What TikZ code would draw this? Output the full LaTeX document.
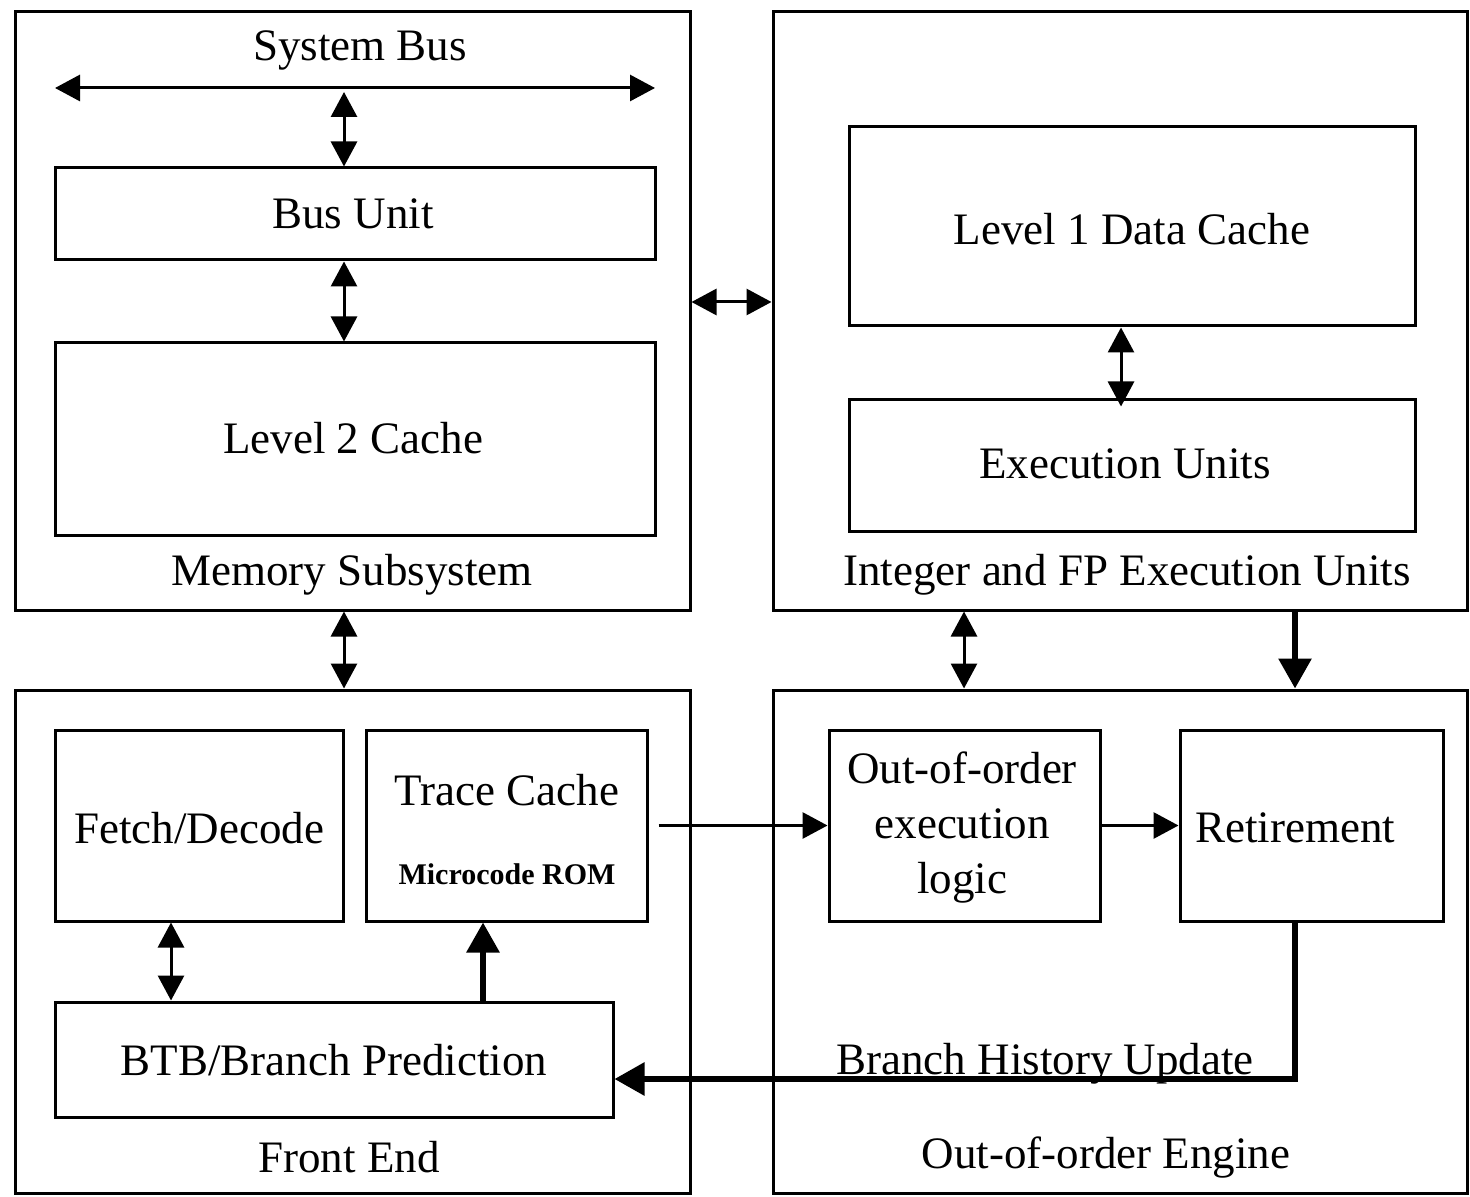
\documentclass[tikz,border=0pt]{standalone}
\usepackage{fontspec}
\setmainfont{Liberation Serif}
\usetikzlibrary{arrows.meta}
\tikzset{
  box/.style={draw, line width=1.5pt, rectangle, inner sep=0pt},
  lbl/.style={inner sep=0pt, font=\fontsize{22.5}{27.5}\selectfont, align=center},
  small/.style={inner sep=0pt, font=\fontsize{15}{18}\selectfont\bfseries},
  thin/.style={line width=1.5pt},
  thick/.style={line width=3pt},
  tip/.tip={Triangle[length=12.5pt,width=13pt]},
  bigtip/.tip={Triangle[length=15pt,width=16pt]},
  dbl/.style={thin, tip-tip},
  one/.style={thin, -tip},
  heavy/.style={thick, -bigtip},
}
\begin{document}
\begin{tikzpicture}[x=0.5pt, y=-0.5pt]
\useasboundingbox[fill=white] (0,0) rectangle (1470,1197);

% four outer blocks
\node[box, minimum width=337.5pt, minimum height=299pt] (mem) at (352.5,311) {};
\node[box, minimum width=347pt, minimum height=299pt] (int) at (1120,311) {};
\node[box, minimum width=337.5pt, minimum height=251.5pt] (fe) at (352.5,941.5) {};
\node[box, minimum width=347pt, minimum height=251.5pt] (ooo) at (1120,941.5) {};

\node[lbl] (memlbl) at (352,575) {Memory Subsystem};
\node[lbl] (intlbl) at (1127,575) {Integer and FP Execution Units};
\node[lbl] (felbl) at (349,1157) {Front End};
\node[lbl] (ooolbl) at (1106,1157) {Out-of-order Engine};

% memory subsystem
\node[lbl] (sblbl) at (360,50) {System Bus};
\coordinate (sbL) at (55,88);
\coordinate (sbR) at (655,88);
\coordinate (sbT) at (344,88);
\node[box, minimum width=300pt, minimum height=46pt] (bus) at (355,214) {};
\node[lbl] (buslbl) at (353,214) {Bus Unit};
\node[box, minimum width=300pt, minimum height=96pt] (l2) at (355,439) {};
\node[lbl] (l2lbl) at (353,438) {Level 2 Cache};

% execution units
\node[box, minimum width=283pt, minimum height=99.5pt] (l1) at (1132,226.5) {};
\node[lbl] (l1lbl) at (1132,229) {Level 1 Data Cache};
\node[box, minimum width=283pt, minimum height=65.5pt] (exec) at (1132,465.5) {};
\node[lbl] (execlbl) at (1125,464) {Execution Units};

% front end
\node[box, minimum width=144pt, minimum height=95.5pt] (fetch) at (199,825.5) {};
\node[lbl] (fetchlbl) at (199,828) {Fetch/Decode};
\node[box, minimum width=140.5pt, minimum height=95.5pt] (trace) at (506.5,825.5) {};
\node[lbl] (tracelbl) at (507,790) {Trace Cache};
\node[small] (romlbl) at (507,874) {Microcode ROM};
\node[box, minimum width=279pt, minimum height=57.5pt] (btb) at (334,1059.5) {};
\node[lbl] (btblbl) at (334,1060) {BTB/Branch Prediction};

% out-of-order engine
\node[box, minimum width=135.5pt, minimum height=95.5pt] (logic) at (964.5,825.5) {};
\node[lbl] (logiclbl) at (962,828) {Out-of-order\\execution\\logic};
\node[box, minimum width=131.5pt, minimum height=95.5pt] (retire) at (1311.5,825.5) {};
\node[lbl] (retirelbl) at (1295,828) {Retirement};
\node[lbl, anchor=base] (bhulbl) at (1045,1074) {Branch History Update};

% helper points for the connectors
\coordinate (xa) at (344,0);
\coordinate (xl1) at (1121,0);
\coordinate (xio) at (964,0);
\coordinate (xret) at (1295,0);
\coordinate (xfd) at (171,0);
\coordinate (xtc) at (483,0);
\coordinate (ymi) at (0,302);
\coordinate (ybh) at (0,1079);
\coordinate (bend) at (1295,1079);

% connectors
\draw[dbl] (sbL) -- (sbR);
\draw[dbl] ([yshift=-2pt]sbT) -- (bus.north -| sbT);
\draw[dbl] (bus.south -| xa) -- (l2.north -| xa);
\draw[dbl] (mem.east |- ymi) -- (int.west |- ymi);
\draw[dbl] (l1.south -| xl1) -- ([yshift=-4pt]exec.north -| xl1);
\draw[dbl] (mem.south -| xa) -- (fe.north -| xa);
\draw[dbl] (int.south -| xio) -- (ooo.north -| xio);
\draw[heavy] (int.south -| xret) -- (ooo.north -| xret);
\draw[one, shorten <=5pt] (trace.east) -- (logic.west);
\draw[one] (logic.east) -- (retire.west);
\draw[dbl] (fetch.south -| xfd) -- (btb.north -| xfd);
\draw[heavy] (btb.north -| xtc) -- (trace.south -| xtc);
\draw[heavy, line join=miter] (retire.south -| xret) -- (bend) -- (btb.east |- ybh);
\end{tikzpicture}
\end{document}
